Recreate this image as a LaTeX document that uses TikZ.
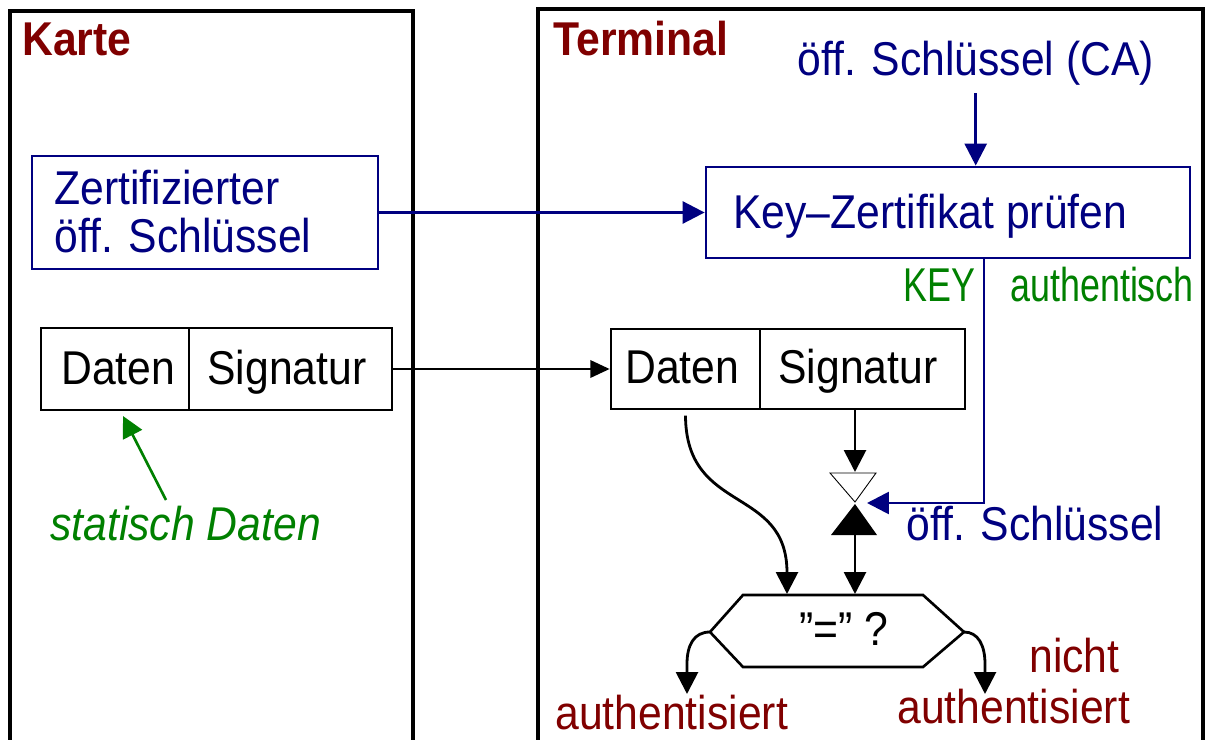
\documentclass[tikz,border=0pt]{standalone}
\usepackage{fontspec}
\setmainfont{Liberation Sans}[FakeStretch=0.9]
\usetikzlibrary{arrows.meta}
\definecolor{kred}{RGB}{128,0,0}
\definecolor{knavy}{RGB}{0,0,128}
\definecolor{kgreen}{RGB}{0,128,0}
% lengths given in drawing units (1 unit = 0.02cm)
\newcommand\pxl[1]{#1*0.02cm}
% horizontally condensed label text
\newcommand\narrow[1]{\scalebox{0.84}[1]{#1}}

\begin{document}
\begin{tikzpicture}[x=0.02cm,y=-0.02cm,
  txt/.style={inner sep=0pt, anchor=base west, font=\fontsize{27}{29}\selectfont},
  head/.style={txt, font=\fontsize{27}{29}\selectfont\bfseries, text=kred},
  cell/.style 2 args={draw, line width=1.6pt, inner sep=0pt,
    minimum width=\pxl{#1}, minimum height=\pxl{#2}},
  panel/.style 2 args={draw, line width=1.8pt, inner sep=0pt,
    minimum width=\pxl{#1}, minimum height=\pxl{#2}},
  arr/.style={line width=1.6pt, -{Triangle[length=12.5pt,width=12.5pt]}},
  thinarr/.style={line width=1.1pt, -{Triangle[length=11pt,width=10pt]}},
]
\clip (0,0) rectangle (1207,740);

% the two panels (open at the bottom)
\node[panel={403}{800}] (karte) at (211.5,411) {};
\node[panel={665}{800}] (term) at (870.5,409) {};
\node[head] (tKarte) at (22,56) {Karte};
\node[head] (tTerm) at (553,56) {Terminal};

% certified public key on the card
\node[cell={346}{113}, draw=knavy] (zert) at (205,212.5) {};
\node[txt, text=knavy] (zertA) at (54,204) {Zertifizierter};
\node[txt, text=knavy] (zertB) at (54,252) {öff. Schlüssel};

% CA key and certificate check in the terminal
\node[txt, text=knavy] (ca) at (797,76) {öff. Schlüssel (CA)};
\node[cell={484}{91}, draw=knavy] (key) at (948,212.5) {};
\node[txt, text=knavy] (keyT) at (733,228) {Key–Zertifikat prüfen};
\draw[arr, knavy] ([yshift=-4pt]ca.south) -- (ca.south |- key.north);
\draw[arr, knavy] (zert.east) -- (key.west);

\node[txt, text=kgreen] (keyA) at (903,301) {\narrow{KEY}};
\node[txt, text=kgreen] (keyB) at (1010,301) {\narrow{authentisch}};

% data and signature on the card
\node[cell={148}{82}] (dL) at (115,369) {};
\node[cell={203}{82}] (sL) at (290.5,369) {};
\node[txt] (dLT) at (61,384) {Daten};
\node[txt] (sLT) at (207,384) {Signatur};

% data and signature in the terminal
\node[cell={149}{80}] (dT) at (685.5,369) {};
\node[cell={205}{80}] (sT) at (862.5,369) {};
\node[txt] (dTT) at (625,383) {Daten};
\node[txt] (sTT) at (778,383) {Signatur};
\draw[thinarr] (sL.east) -- (dT.west);

% static data label
\node[txt, text=kgreen, font=\fontsize{27}{29}\selectfont\itshape] (stat) at (50,540) {statisch Daten};
\coordinate (gs) at (166,500);
\coordinate (gt) at (123,416);
\draw[line width=1.5pt, kgreen, -{Triangle[length=12pt,width=12pt]}] (gs) -- (gt);

% decryption valve
\coordinate (valve) at (855,503);
\coordinate (vTop) at (855,472);
\coordinate (vIn) at (867,503);
\coordinate (vline) at (984,0);
\draw[line width=0.5pt, fill=white] (830,473) -- (876,473) -- (855,502) -- cycle;
\fill (855,504) -- (877,535) -- (831,535) -- cycle;
\draw[arr] (valve |- sT.south) -- (vTop);
\draw[arr, knavy] (key.south -| vline) |- (vIn);
\node[txt, text=knavy] (pk) at (906,540) {öff. Schlüssel};

% comparison
\coordinate (hexL) at (710,632);
\coordinate (hexR) at (964,632);
\coordinate (hexTa) at (787,594);
\coordinate (hexTb) at (855,594);
\draw[line width=1.5pt, line join=miter] (743,595) -- (923,595) -- (hexR) -- (923,667) -- (743,667) -- (hexL) -- cycle;
\node[txt, anchor=base] (cmp) at (844,645) {”=” ?};
\draw[arr] ([yshift=-3pt]dT.south) .. controls (686,515) and (787,485) .. (hexTa);
\draw[arr] (855,535) -- (hexTb);

% results
\coordinate (okT) at (687,694);
\coordinate (nokT) at (985,694);
\draw[arr] (hexL) .. controls (694,632) and (687,645) .. (687,664) -- (okT);
\draw[arr] (hexR) .. controls (978,632) and (985,645) .. (985,664) -- (nokT);
\node[txt, text=kred] (ok) at (555,729) {authentisiert};
\node[txt, text=kred] (nicht) at (1029,672) {nicht};
\node[txt, text=kred] (nok) at (897,723) {authentisiert};
\end{tikzpicture}
\end{document}
